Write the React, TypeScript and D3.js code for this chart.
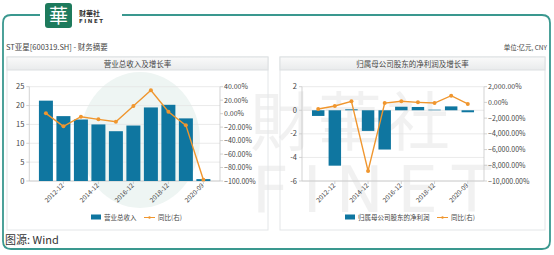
import React from "react";
import * as d3 from "d3";

const categories = [
  "2011-12", "2012-12", "2013-12", "2014-12", "2015-12",
  "2016-12", "2017-12", "2018-12", "2019-12", "2020-09",
];
const shownLabels = ["2012-12", "2014-12", "2016-12", "2018-12", "2020-09"];

const revenue = [21.3, 17.2, 16.3, 15.0, 13.2, 14.7, 19.5, 20.2, 16.6, 0.5];
const revenueYoY = [0.4, -18.9, -4.6, -8.5, -12.0, 11.3, 34.6, 2.9, -17.4, -98.1];
const revenueTicks = [0, 5, 10, 15, 20, 25];
const revenueYoYTicks = [-100, -80, -60, -40, -20, 0, 20, 40];

const profit = [-0.48, -4.7, 0.08, -1.75, -3.33, 0.3, 0.28, 0.05, 0.33, -0.17];
const profitYoY = [-840, -460, 140, -8720, -80, 140, 10, -80, 860, -200];
const profitTicks = [-6, -4, -2, 0, 2];
const profitYoYTicks = [-10000, -8000, -6000, -4000, -2000, 0, 2000];

const BAR = "#0f76a0";
const LINE = "#f0962e";
const FONT = "'Noto Sans CJK SC', 'Noto Sans', sans-serif";

interface PanelProps {
  x0: number;
  x1: number;
  plotL: number;
  plotR: number;
  title: string;
  bars: number[];
  line: number[];
  leftTicks: number[];
  rightTicks: number[];
  pad: [number, number];
  barName: string;
  legendX: number;
  lineLegendX: number;
}

const Panel: React.FC<PanelProps> = (p) => {
  const top = 86.7;
  const bottom = 181;
  const x = d3.scaleBand<string>().domain(categories).range([p.plotL, p.plotR])
    .paddingInner(p.pad[0]).paddingOuter(p.pad[1]);
  const y = d3.scaleLinear()
    .domain(d3.extent(p.leftTicks) as [number, number]).range([bottom, top]);
  const y2 = d3.scaleLinear()
    .domain(d3.extent(p.rightTicks) as [number, number]).range([bottom, top]);
  const fmt = d3.format(",.2f");
  const cx = (c: string) => (x(c) as number) + x.bandwidth() / 2;
  const lineGen = d3.line<number>().x((_, i) => cx(categories[i])).y((d) => y2(d));

  return (
    <g fontFamily={FONT}>
      {/* panel box */}
      <rect x={p.x0} y={57} width={p.x1 - p.x0} height={173} fill="none" stroke="#e3e6e8" />
      <defs>
        <linearGradient id={"tb" + p.x0} x1="0" y1="0" x2="0" y2="1">
          <stop offset="0" stopColor="#fafafa" />
          <stop offset="1" stopColor="#e9ebec" />
        </linearGradient>
      </defs>
      <rect x={p.x0} y={57} width={p.x1 - p.x0} height={13} fill={`url(#tb${p.x0})`} stroke="#dcdfe1" />
      <text x={(p.x0 + p.x1) / 2} y={66.5} textAnchor="middle" fontSize={7.5} fill="#444">{p.title}</text>

      {/* grid */}
      {p.leftTicks.map((t) => (
        <line key={t} x1={p.plotL} x2={p.plotR} y1={y(t)} y2={y(t)} stroke="#e4e4e4" strokeWidth={0.8} />
      ))}
      <line x1={p.plotL} x2={p.plotL} y1={top} y2={bottom} stroke="#c8c8c8" strokeWidth={0.8} />
      <line x1={p.plotR} x2={p.plotR} y1={top} y2={bottom} stroke="#c8c8c8" strokeWidth={0.8} />
      <line x1={p.plotL} x2={p.plotR} y1={bottom} y2={bottom} stroke="#c8c8c8" strokeWidth={0.8} />
      {p.leftTicks.map((t) => (
        <g key={"l" + t}>
          <line x1={p.plotL - 3} x2={p.plotL} y1={y(t)} y2={y(t)} stroke="#c8c8c8" strokeWidth={0.8} />
          <text x={p.plotL - 5} y={y(t) + 2.5} textAnchor="end" fontSize={7.5} fill="#444">{t}</text>
        </g>
      ))}
      {p.rightTicks.map((t) => (
        <g key={"r" + t}>
          <line x1={p.plotR} x2={p.plotR + 3} y1={y2(t)} y2={y2(t)} stroke="#c8c8c8" strokeWidth={0.8} />
          <text x={p.plotR + 4} y={y2(t) + 2.5} fontSize={7} fill="#444">{fmt(t)}%</text>
        </g>
      ))}

      {/* bars */}
      {p.bars.map((v, i) => (
        <rect key={i} x={x(categories[i])} width={x.bandwidth()}
          y={Math.min(y(v), y(0))} height={Math.abs(y(v) - y(0))} fill={BAR} />
      ))}

      {/* line */}
      <path d={lineGen(p.line) || ""} fill="none" stroke={LINE} strokeWidth={1.4} />
      {p.line.map((v, i) => (
        <circle key={i} cx={cx(categories[i])} cy={y2(v)} r={2} fill={LINE} />
      ))}

      {/* x labels */}
      {shownLabels.map((c) => (
        <g key={c}>
          <line x1={cx(c)} x2={cx(c)} y1={bottom} y2={bottom + 3} stroke="#c8c8c8" strokeWidth={0.8} />
          <text transform={`translate(${cx(c) + 1},${bottom + 5}) rotate(-45)`} textAnchor="end"
            fontSize={6.5} fill="#444">{c}</text>
        </g>
      ))}

      {/* legend */}
      <rect x={p.legendX} y={214.5} width={10} height={5} fill={BAR} />
      <text x={p.legendX + 13} y={220} fontSize={6.5} fill="#444">{p.barName}</text>
      <line x1={p.lineLegendX} x2={p.lineLegendX + 11} y1={217.5} y2={217.5} stroke={LINE} strokeWidth={1} />
      <circle cx={p.lineLegendX + 5.5} cy={217.5} r={1.2} fill={LINE} />
      <text x={p.lineLegendX + 14} y={220} fontSize={6.5} fill="#444">同比(右)</text>
    </g>
  );
};

export default function App() {
  return (
    <svg width={554} height={255} style={{ position: "absolute", left: 0, top: 0, background: "#fff" }}>
      {/* watermark */}
      <ellipse cx={140} cy={140} rx={60} ry={68} fill="#eef5f3" />
      <text x={250} y={145} fontSize={64} fill="#000" opacity={0.05} fontFamily={FONT}
        letterSpacing={4}>財華社</text>
      <text x={252} y={212} fontSize={64} fill="#000" opacity={0.05} fontFamily="'DejaVu Sans', sans-serif"
        letterSpacing={14}>FINET</text>

      {/* frame */}
      <path d="M40,15 H11 Q3,15 3,23 V241 Q3,249 11,249 H542 Q550,249 550,241 V23 Q550,15 542,15 H122"
        fill="none" stroke="#3a988f" strokeWidth={1.8} />

      {/* logo */}
      <rect x={45} y={3} width={27} height={25} rx={3} fill="#1d7a5c" />
      <text x={58.5} y={23} textAnchor="middle" fontSize={19} fill="#fff" fontFamily={FONT}>華</text>
      <text x={79} y={16} fontSize={7} fill="#333" fontFamily={FONT} fontWeight={700}>财華社</text>
      <text x={79} y={23} fontSize={5.5} fill="#333" fontFamily="'DejaVu Sans', sans-serif"
        letterSpacing={1.5} fontWeight={700}>FINET</text>

      <text x={6} y={50} fontSize={7.5} fill="#444" fontFamily={FONT}>ST亚星[600319.SH] - 财务摘要</text>
      <text x={547} y={50} fontSize={6.5} fill="#444" textAnchor="end" fontFamily={FONT}>单位:亿元, CNY</text>

      <Panel x0={7} x1={268} plotL={29.3} plotR={220} title="营业总收入及增长率"
        bars={revenue} line={revenueYoY} leftTicks={revenueTicks} rightTicks={revenueYoYTicks}
        pad={[0.2, 0.55]} barName="营业总收入" legendX={91} lineLegendX={144} />
      <Panel x0={280} x1={545} plotL={302} plotR={484} title="归属母公司股东的净利润及增长率"
        bars={profit} line={profitYoY} leftTicks={profitTicks} rightTicks={profitYoYTicks}
        pad={[0.25, 0.6]} barName="归属母公司股东的净利润" legendX={345} lineLegendX={437} />

      <text x={5} y={244} fontSize={11} fill="#333" fontFamily={FONT}>图源:  Wind</text>
    </svg>
  );
}
